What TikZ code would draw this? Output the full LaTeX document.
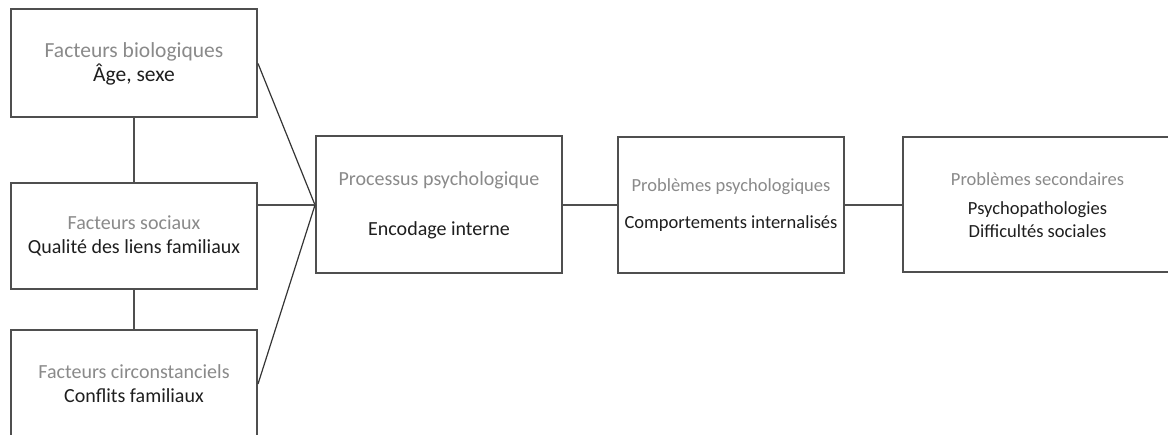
\documentclass[tikz,border=0pt]{standalone}
\usepackage{fontspec}
\setmainfont{Carlito}
\usetikzlibrary{positioning}
\definecolor{titleGrey}{HTML}{8A8A8A}
\definecolor{textBlack}{HTML}{1E1E1E}
\definecolor{boxLine}{HTML}{4F4F4F}

\begin{document}
\begin{tikzpicture}[x=1pt, y=-1pt,
  box/.style={draw=boxLine, line width=2pt, fill=white, align=center,
              inner sep=0pt, font=\fontsize{20}{24}\selectfont, text=textBlack},
  bigtext/.style={font=\fontsize{21.5}{24}\selectfont},
  smalltext/.style={font=\fontsize{18.5}{23}\selectfont},
  link/.style={draw=boxLine, line width=2pt},
  feed/.style={draw=textBlack!90, line width=1.2pt}]
  \useasboundingbox (0,0) rectangle (1168,435);
  % left column: factors
  \node[box, bigtext, minimum width=246pt, minimum height=108pt] (bio) at (134,63.5)
    {\textcolor{titleGrey}{Facteurs biologiques}\\Âge, sexe};
  \node[box, minimum width=246pt, minimum height=106pt] (soc) at (134,236)
    {\textcolor{titleGrey}{Facteurs sociaux}\\Qualité des liens familiaux};
  \node[box, minimum width=246pt, minimum height=108pt] (circ) at (134,384)
    {\textcolor{titleGrey}{Facteurs circonstanciels}\\Conflits familiaux};
  % chain on the right
  \node[box, minimum width=246pt, minimum height=137pt] (proc) at (439,205)
    {\textcolor{titleGrey}{Processus psychologique}\\[26pt]Encodage interne};
  \node[box, smalltext, minimum width=226pt, minimum height=136pt] (psy) at (731,205)
    {\textcolor{titleGrey}{Problèmes psychologiques}\\[14pt]Comportements internalisés};
  \node[box, smalltext, minimum width=269pt, minimum height=135pt] (sec) at (1037.5,205)
    {\textcolor{titleGrey}{Problèmes secondaires}\\[6pt]Psychopathologies\\Difficultés sociales};
  % connectors
  \draw[link] (bio.south) -- (soc.north);
  \draw[link] (soc.south) -- (circ.north);
  \draw[feed] (bio.east) -- (proc.west);
  \draw[link] (proc.west -| soc.east) -- (proc.west);
  \draw[feed] (circ.east) -- (proc.west);
  \draw[link] (proc.east) -- (psy.west);
  \draw[link] (psy.east) -- (sec.west);
\end{tikzpicture}
\end{document}
